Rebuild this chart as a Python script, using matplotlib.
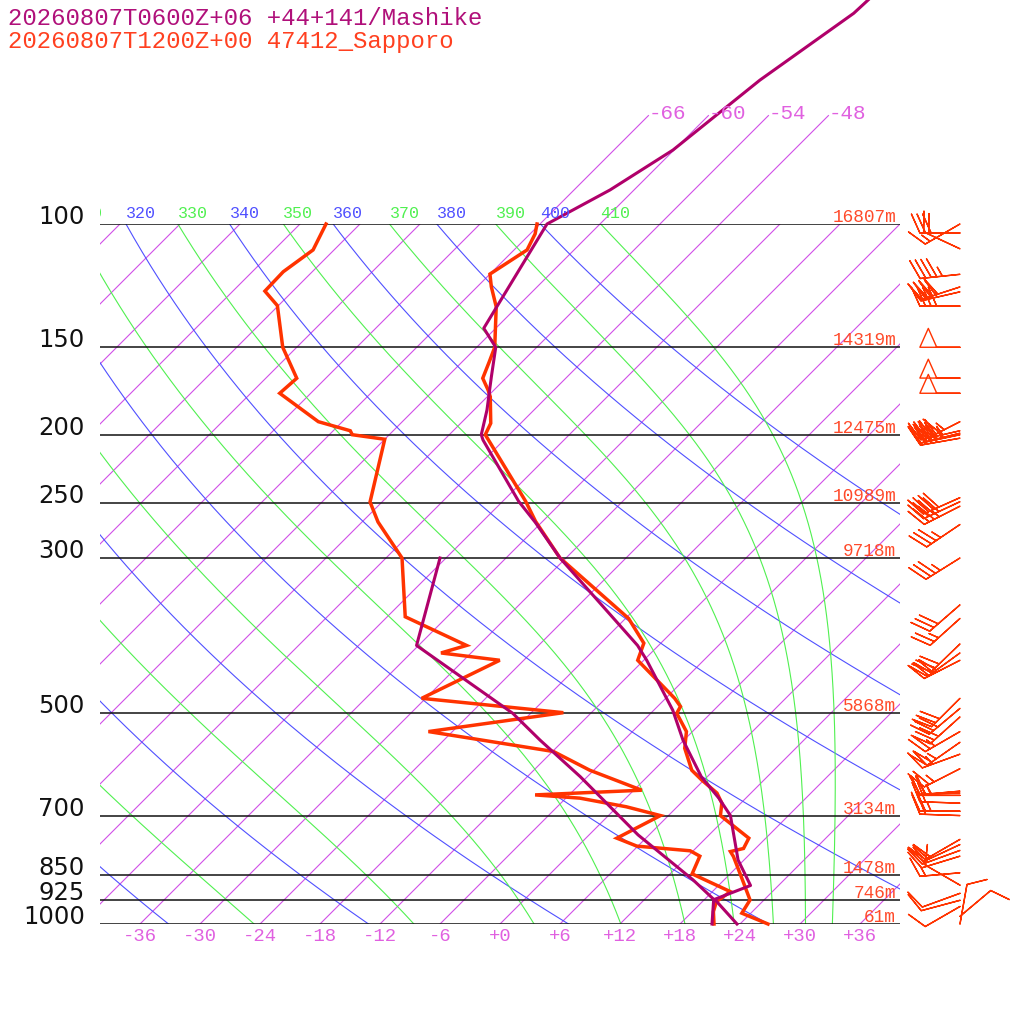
import numpy as np
import matplotlib
matplotlib.use('Agg')
import matplotlib.pyplot as plt
from matplotlib.transforms import Affine2D, Bbox, offset_copy

# Sapporo 47412 observed sounding
obs_t_p = [1000, 965, 924, 856, 801, 788, 780, 754, 700, 672, 650, 623, 603, 561, 531, 500,
           489, 476, 420, 397, 366, 300, 266, 249, 200, 192.6, 176.5, 172.6, 166.1, 157.3,
           150, 131.3, 122.9, 117.9, 108.9, 103.3, 100]
obs_t = [26.8, 23.1, 22.6, 19.4, 16.6, 15.8, 16.8, 16.3, 11.2, 10.1, 8.6, 5.8, 3.8, 0.9, -0.6, -3.4,
         -3.7, -5.1, -12.6, -13.7, -17.7, -30.6, -36.7, -39.7, -50.4, -51.0, -53.7, -54.6, -56.3, -57.3,
         -58.2, -62.1, -64.6, -66.0, -64.7, -65.5, -66.3]
obs_td_p = [1000, 960, 929, 899, 848, 800, 786, 774, 754, 700, 680, 661, 654, 644, 603, 567,
            531, 499, 476, 420, 410, 400, 364, 300, 266.5, 249.5, 203, 200, 197.4, 191.6,
            174.5, 166.1, 150, 130.8, 124.7, 117, 108.9, 100]
obs_td = [21.4, 20.1, 19.4, 19.8, 14.2, 13.2, 11.7, 5.9, 3.1, 5.2, 0.9, -4.6, -9.4, 0.8, -6.4, -11.9,
          -26.4, -14.8, -30.4, -26.4, -33.0, -31.2, -40.2, -46.4, -52.4, -55.2, -60.0, -63.7, -64.3, -68.4,
          -75.1, -74.9, -79.4, -84.1, -86.8, -86.9, -86.1, -87.4]

# Mashike forecast profile
fc_t_p = [1000, 922, 881, 810, 700, 661, 616, 546, 495, 420, 400, 300, 267, 249, 203.5, 200,
          184.4, 165.2, 150, 140.9, 100, 89.4, 78.4, 62.3, 50, 30]
fc_t = [23.7, 19.0, 21.2, 17.4, 12.2, 9.3, 5.4, -0.1, -4.1, -11.7, -14.1, -30.6, -36.6, -40.4, -50.1, -50.8,
        -52.7, -55.6, -58.1, -61.2, -65.3, -62.4, -60.1, -58.4, -55.7, -54.4]
fc_td_p = [1000, 922, 865, 746, 616, 546, 500, 400, 300]
fc_td = [21.2, 18.9, 14.9, 4.9, -6.7, -14.4, -19.8, -36.2, -42.6]

# Sapporo winds: pressure (hPa), direction (deg), speed (kt)
wind_p = [100, 103, 108.5, 118, 123, 125, 131, 150, 166, 174.5, 191.6, 197.4, 199, 200, 202.3,
          246, 249.3, 253, 268.7, 300, 350, 366, 398, 410, 420, 476, 492, 506, 531, 550, 572,
          600, 646, 650, 655, 672, 690, 700, 757, 770, 785, 800, 845, 880, 904, 925, 944, 975, 1000]
wind_dir = [240, 270, 295, 264, 252, 257, 270, 270, 270, 270, 243, 257, 256, 258, 260,
            246, 245, 243, 236, 238, 229, 228, 226, 234, 243, 225, 230, 228, 240, 235, 250,
            243, 265, 268, 270, 272, 270, 272, 240, 245, 250, 253, 265, 300, 250, 255, 240, 50, 10]
wind_spd = [15, 30, 20, 45, 40, 40, 40, 50, 50, 50, 45, 45, 45, 45, 40,
            40, 40, 35, 35, 35, 30, 25, 30, 30, 30, 30, 30, 30, 25, 25, 25,
            25, 25, 20, 25, 20, 25, 20, 20, 20, 20, 15, 15, 10, 10, 10, 10, 10, 10]

plevels = [100, 150, 200, 250, 300, 500, 700, 850, 925, 1000]
heights = ['16807m', '14319m', '12475m', '10989m', '9718m', '5868m', '3134m', '1478m', '746m', '61m']

title1 = '20260807T0600Z+06 +44+141/Mashike'
title2 = '20260807T1200Z+00 47412_Sapporo'

RED = '#ff3300'
PURPLE = '#b0006a'
ISO = '#d050e8'
BLUE = '#5050ff'
GREEN = '#50f050'
MONO = 'Liberation Mono'


def sat_mixing(T, p):
    es = 6.112 * np.exp(17.67 * (T - 273.15) / (T - 29.65))
    return 0.622 * es / (p - es)


def theta_e(T, p):
    r = 1000 * sat_mixing(T, p)
    return T * (1000 / p) ** (0.2854 * (1 - 0.00028 * r)) * np.exp((3.376 / T - 0.00254) * r * (1 + 0.00081 * r))


def moist_dtdp(T, p):
    rs = sat_mixing(T, p)
    return (287.04 * T + 2.501e6 * rs) / (p * (1005.7 + 2.501e6 ** 2 * rs * 0.622 / (287.04 * T * T)))


def moist_line(the, pp):
    lo, hi = 200.0, 330.0
    for _ in range(60):
        mid = (lo + hi) / 2
        if theta_e(mid, 1000.0) > the:
            hi = mid
        else:
            lo = mid
    Ts = [(lo + hi) / 2]
    for i in range(1, len(pp)):
        dp = pp[i] - pp[i - 1]
        k1 = moist_dtdp(Ts[-1], pp[i - 1])
        k2 = moist_dtdp(Ts[-1] + k1 * dp, pp[i])
        Ts.append(Ts[-1] + 0.5 * (k1 + k2) * dp)
    return np.array(Ts) - 273.15


fig = plt.figure(figsize=(10.24, 10.24), dpi=100)
ax = fig.add_axes([100 / 1024, 100 / 1024, 800 / 1024, 700 / 1024])
ax.set_yscale('log')
ax.set_xlim(-40, 40)
ax.set_ylim(1000, 100)
ax.axis('off')

# 45 degree skew about the bottom of the diagram
ybot = ax.transAxes.transform((0, 0))[1]
skew = Affine2D().translate(0, -ybot).skew_deg(45, 0).translate(0, ybot)
tr = ax.transData + skew
left_clip = Bbox([[100, 0], [1024, 1024]])
x_left = ax.transAxes.transform((0, 0))[0]

pp = np.logspace(3, 2, 400)


def top_label(tval, txt, col):
    # label at 100 hPa, cut at the left border like the original
    if tr.transform((tval, 100))[0] < x_left - 28:
        return
    lab = ax.text(tval, 100, txt, transform=offset_copy(tr, fig=fig, y=6, units='dots'),
                  ha='left', va='baseline', color=col, fontsize=12, family=MONO, clip_on=True)
    lab.set_clip_path(None)
    lab.set_clip_box(left_clip)


# isotherms
for t in range(-114, 42, 6):
    ax.plot([t, t], [1000, 100], color=ISO, lw=0.8, transform=tr)
    if -36 <= t <= 36:
        ax.text(t, 1000, '%+d' % t, transform=offset_copy(tr, fig=fig, y=-17, units='dots'),
                ha='center', va='baseline', color='#e060e0', fontsize=13.6, family=MONO)
for t in range(-66, -47, 6):
    ax.plot([t, t], [100, 70], color=ISO, lw=0.8, transform=tr, clip_on=False)
    ax.text(t, 70, '%d' % t, transform=offset_copy(tr, fig=fig, y=-3, units='dots'),
            ha='left', va='baseline', color='#e060e0', fontsize=15, family=MONO)

# dry adiabats
for th in range(240, 401, 20):
    tt = th * (pp / 1000) ** 0.2857 - 273.15
    ax.plot(tt, pp, color=BLUE, lw=0.8, transform=tr)
    top_label(tt[-1], str(th), BLUE)

# moist adiabats
for the in range(250, 411, 20):
    tt = moist_line(the, pp)
    ax.plot(tt, pp, color=GREEN, lw=0.8, transform=tr)
    top_label(tt[-1], str(the), GREEN)

# pressure levels
ylab = ax.get_yaxis_transform()
for p, h in zip(plevels, heights):
    ax.plot([0, 1], [p, p], color='#111111', lw=1.1, transform=ylab)
    ax.text(-15 / 800, p, str(p), transform=ylab, ha='right', va='baseline',
            fontsize=17.5, color='#111111', family='DejaVu Sans')
    ax.text(1 - 4 / 800, p, h, transform=offset_copy(ylab, fig=fig, y=2, units='dots'),
            ha='right', va='baseline', fontsize=12.8, color='#ff4a2a', family=MONO)

# profiles
ax.plot(obs_td, obs_td_p, color=RED, lw=2.5, transform=tr, clip_on=False, solid_joinstyle='miter')
ax.plot(obs_t, obs_t_p, color=RED, lw=2.5, transform=tr, clip_on=False, solid_joinstyle='miter')
ax.plot(fc_td, fc_td_p, color=PURPLE, lw=2.2, transform=tr, clip_on=False)
ax.plot(fc_t, fc_t_p, color=PURPLE, lw=2.2, transform=tr, clip_on=False)

# wind barbs
wax = fig.add_axes([900 / 1024, 100 / 1024, 124 / 1024, 700 / 1024])
wax.set_yscale('log')
wax.set_xlim(0, 124)
wax.set_ylim(1000, 100)
wax.axis('off')
wd = np.radians(wind_dir)
u = -np.array(wind_spd) * np.sin(wd)
v = -np.array(wind_spd) * np.cos(wd)
wax.barbs(np.full(len(wind_p), 60.0), wind_p, u, v, length=7.6, pivot='tip',
          barbcolor=RED, flagcolor='none', linewidth=1.0, clip_on=False,
          sizes=dict(spacing=0.14, height=0.47, width=0.42))

fig.text(8 / 1024, 1 - 25 / 1024, title1, color='#b0107a', fontsize=17.3, family=MONO)
fig.text(8 / 1024, 1 - 48 / 1024, title2, color='#ff4020', fontsize=17.3, family=MONO)

fig.savefig('out.png', dpi=100, facecolor='white')
